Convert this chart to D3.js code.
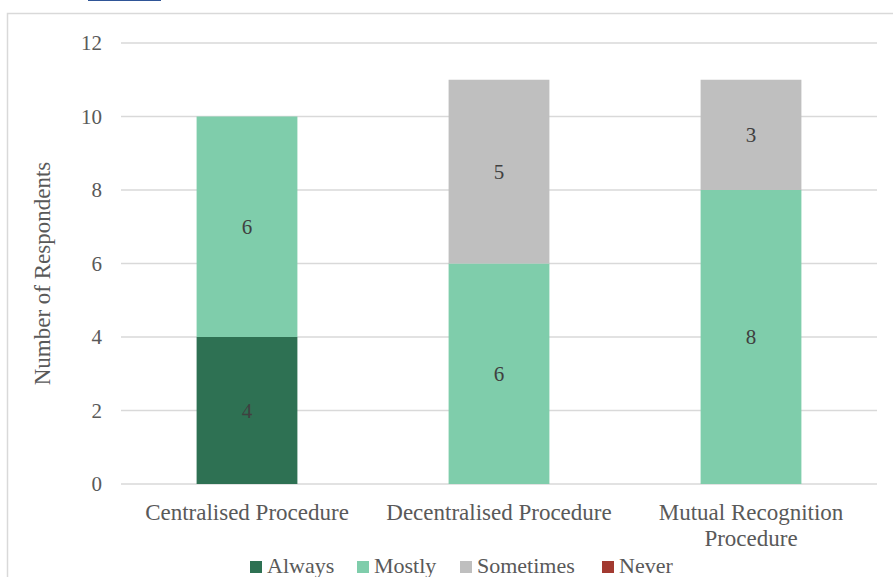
<!DOCTYPE html>
<html>
<head>
<meta charset="utf-8">
<script src="https://cdn.jsdelivr.net/npm/d3@7"></script>
<style>
html,body{margin:0;padding:0;background:#fff;overflow:hidden;}
svg{display:block;}
svg text{font-family:"Liberation Serif","DejaVu Serif",serif;}
</style>
</head>
<body>
<svg id="chart" width="893" height="577"></svg>
<script>
const categories = ["Centralised Procedure", "Decentralised Procedure", "Mutual Recognition Procedure"];
const categoryLines = [["Centralised Procedure"], ["Decentralised Procedure"], ["Mutual Recognition", "Procedure"]];
const seriesNames = ["Always", "Mostly", "Sometimes", "Never"];
const always = [4, 0, 0];
const mostly = [6, 6, 8];
const sometimes = [0, 5, 3];
const never = [0, 0, 0];
const colors = ["#2e7153", "#7fcdab", "#bfbfbf", "#a23a31"];
const yTicks = [0, 2, 4, 6, 8, 10, 12];
const yTitle = "Number of Respondents";

const FS = 21;   // numbers
const FT = 23;   // words
const svg = d3.select("#chart");

// frame & cropped hyperlink underline
svg.append("rect").attr("x", 7.5).attr("y", 13.5).attr("width", 900).attr("height", 600)
  .attr("fill", "none").attr("stroke", "#d9d9d9").attr("stroke-width", 1.5);
svg.append("line").attr("x1", 88).attr("x2", 161).attr("y1", 0.5).attr("y2", 0.5)
  .attr("stroke", "#2f5597").attr("stroke-width", 1);

const margin = {left: 121, right: 877, top: 43, bottom: 484};
const x = d3.scaleBand().domain(categories).range([margin.left, margin.right]).paddingInner(0.6).paddingOuter(0.3);
const y = d3.scaleLinear().domain([0, 12]).range([margin.bottom, margin.top]);

// gridlines
svg.append("g").selectAll("line").data(yTicks).join("line")
  .attr("x1", margin.left).attr("x2", margin.right)
  .attr("y1", d => y(d)).attr("y2", d => y(d))
  .attr("stroke", "#d9d9d9").attr("stroke-width", 1.5);

// y axis labels
const yAxis = d3.axisLeft(y).tickValues(yTicks).tickSize(0).tickPadding(0);
const gy = svg.append("g").attr("transform", `translate(${margin.left - 19},0)`).call(yAxis);
gy.select(".domain").remove();
gy.attr("font-family", null).attr("font-size", null);
gy.selectAll("text").attr("font-size", FS).attr("fill", "#595959").attr("dy", "0.32em");

// y title
svg.append("text").attr("transform", `translate(50,${(margin.top + margin.bottom) / 2 + 10}) rotate(-90)`)
  .attr("text-anchor", "middle").attr("font-size", FT).attr("fill", "#595959")
  .text(yTitle);

// stack
const table = categories.map((c, i) => ({cat: c, Always: always[i], Mostly: mostly[i], Sometimes: sometimes[i], Never: never[i]}));
const stacked = d3.stack().keys(seriesNames)(table);

const layers = svg.append("g").selectAll("g").data(stacked).join("g").attr("fill", (d, i) => colors[i]);
layers.selectAll("rect").data(d => d).join("rect")
  .attr("x", d => x(d.data.cat)).attr("width", x.bandwidth())
  .attr("y", d => y(d[1])).attr("height", d => y(d[0]) - y(d[1]));

// labels
const lab = svg.append("g");
stacked.forEach(layer => {
  layer.forEach(d => {
    const v = d[1] - d[0];
    if (v > 0) {
      lab.append("text").attr("x", x(d.data.cat) + x.bandwidth() / 2).attr("y", y((d[0] + d[1]) / 2))
        .attr("dy", "0.35em").attr("text-anchor", "middle").attr("font-size", FS)
        .attr("fill", "#404040").text(v);
    }
  });
});

// x labels
categories.forEach((c, i) => {
  const t = svg.append("text").attr("text-anchor", "middle").attr("font-size", FT)
    .attr("fill", "#595959").attr("x", x(c) + x.bandwidth() / 2).attr("y", 520);
  categoryLines[i].forEach((ln, j) => t.append("tspan").attr("x", x(c) + x.bandwidth() / 2).attr("dy", j === 0 ? 0 : 26).text(ln));
});

// legend
const legendX = [250, 357, 460, 602];
const lg = svg.append("g");
seriesNames.forEach((s, i) => {
  lg.append("rect").attr("x", legendX[i]).attr("y", 561).attr("width", 12).attr("height", 12).attr("fill", colors[i]);
  lg.append("text").attr("x", legendX[i] + 17).attr("y", 573).attr("font-size", 22)
    .attr("fill", "#595959").text(s);
});
</script>
</body>
</html>
